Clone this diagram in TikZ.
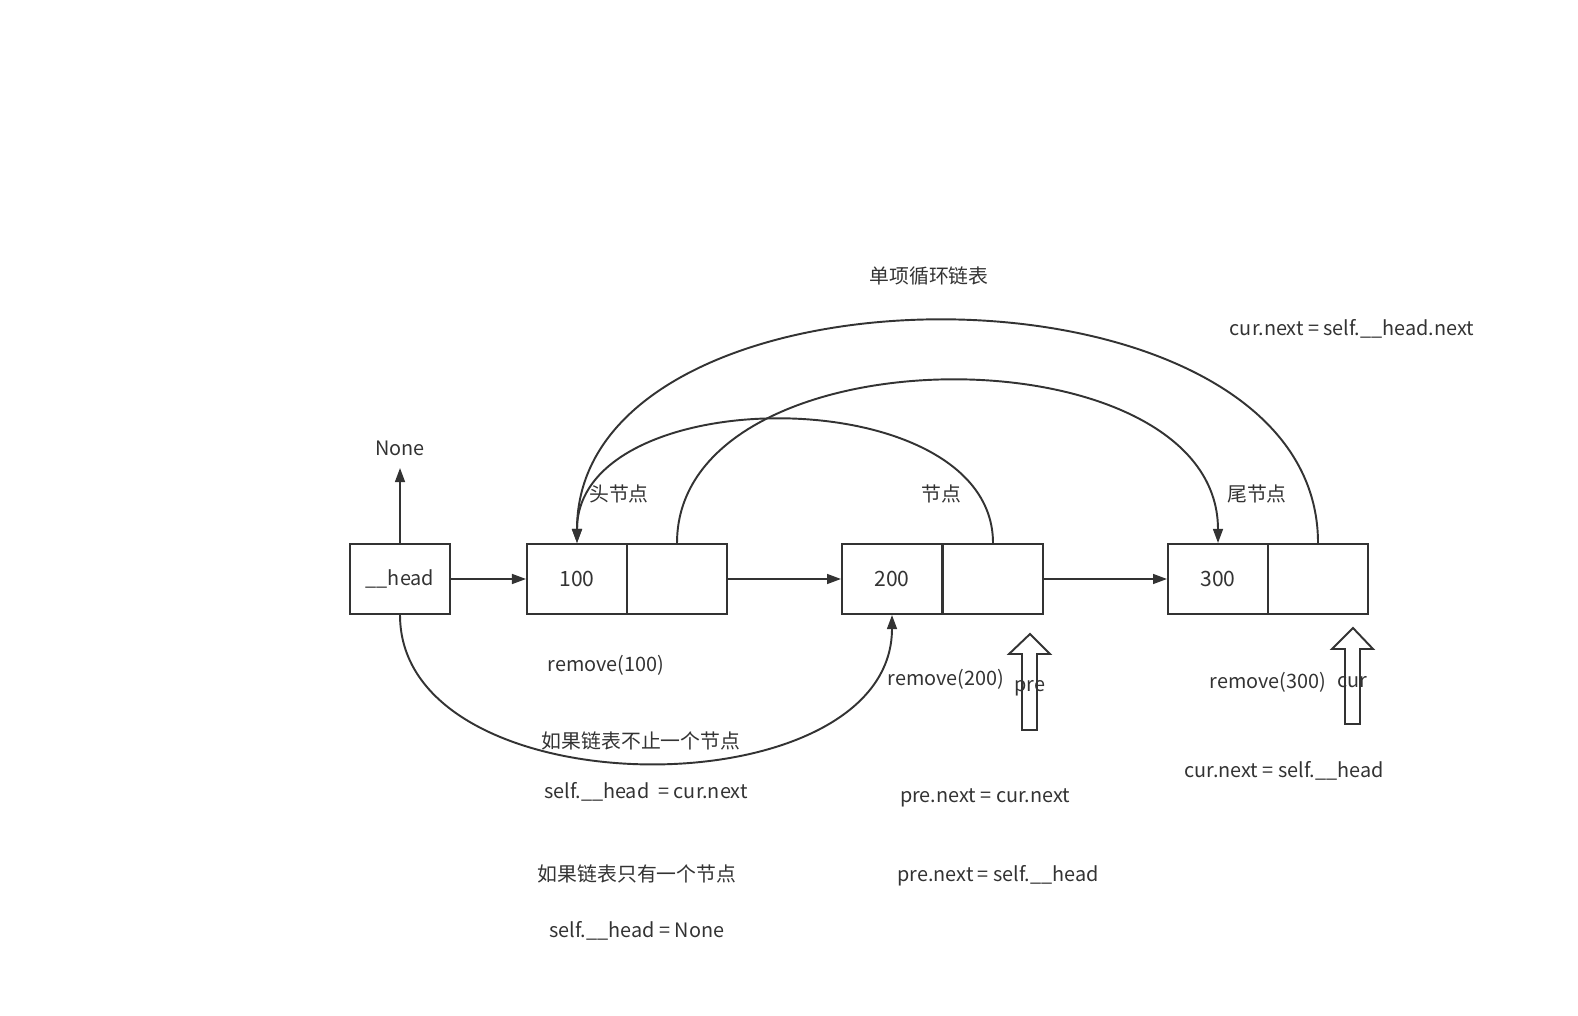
\documentclass[tikz,border=0pt]{standalone}
\usepackage{fontspec}
\setmainfont{Noto Sans CJK SC}
\usetikzlibrary{arrows.meta}
\definecolor{ink}{HTML}{333333}
\begin{document}
\begin{tikzpicture}[x=0.02cm,y=-0.02cm,
  font=\fontsize{11.3pt}{13pt}\selectfont,
  line width=1.1pt, draw=ink, text=ink,
  cell/.style={draw=ink, rectangle, minimum width=2cm, minimum height=1.4cm, inner sep=0pt, line width=1.1pt},
  lbl/.style={inner sep=0pt, text=ink},
  conn/.style={draw=ink, line width=1.1pt, -{Triangle[length=8pt,width=5.6pt]}},
  hollow/.style={draw=ink, line width=1.1pt, fill=white, line join=miter}]
\useasboundingbox (0,0) rectangle (1578,1016);
% boxes
\node[cell] (head) at (400,579) {\_\_head};
\node[cell] (v100) at (577,579) {\fontsize{12pt}{14pt}\selectfont 100};
\node[cell] (p100) at (677,579) {};
\node[cell] (v200) at (892,579) {\fontsize{12pt}{14pt}\selectfont 200};
\node[cell] (p200) at (993,579) {};
\node[cell] (v300) at (1218,579) {\fontsize{12pt}{14pt}\selectfont 300};
\node[cell] (p300) at (1318,579) {};
% labels
\node[lbl] (none) at (400,448) {None};
\node[lbl] (title) at (929,276) {单项循环链表};
\node[lbl] (t1) at (1352,329) {cur.next = self.\_\_head.next};
\node[lbl] (h1) at (619,494) {头节点};
\node[lbl] (h2) at (941,494) {节点};
\node[lbl] (h3) at (1257,494) {尾节点};
% hollow arrows
\coordinate (preTip) at (1030,634);
\coordinate (curTip) at (1353,628);
\draw[hollow] (preTip) -- (1050,654) -- (1037,654) -- (1037,730) -- (1022,730) -- (1022,654) -- (1009,654) -- cycle;
\draw[hollow] (curTip) -- (1373,649) -- (1360,649) -- (1360,724) -- (1345,724) -- (1345,649) -- (1332,649) -- cycle;
% connectors
\coordinate (noneEnd) at (400,468);
\draw[conn] (head.north) -- (noneEnd);
\draw[conn] (head.east) -- (v100.west);
\draw[conn] (p100.east) -- (v200.west);
\draw[conn] (p200.east) -- (v300.west);
\draw[conn] (p100.north) .. controls +(0,-216) and +(0,-216) .. (v300.north);
\draw[conn] (p200.north) .. controls +(0,-164) and +(0,-164) .. (v100.north);
\draw[conn] (p300.north) .. controls +(0,-296) and +(0,-296) .. (v100.north);
\draw[conn] (head.south) .. controls +(0,197) and +(0,197) .. (v200.south);
% lower labels
\node[lbl] (r1) at (606,665) {remove(100)};
\node[lbl] (r2) at (946,679) {remove(200)};
\node[lbl] (pre) at (1030,688) {pre};
\node[lbl] (r3) at (1268,682) {remove(300)};
\node[lbl] (cur) at (1352,682) {cur};
\node[lbl] (c1) at (641,741) {如果链表不止一个节点};
\node[lbl] (c2) at (646,792) {self.\_\_head\ \ = cur.next};
\node[lbl] (c3) at (985,798) {pre.next = cur.next};
\node[lbl] (c4) at (637,874) {如果链表只有一个节点};
\node[lbl] (c5) at (998,876) {pre.next = self.\_\_head};
\node[lbl] (c6) at (1284,771) {cur.next = self.\_\_head};
\node[lbl] (c7) at (637,931) {self.\_\_head = None};
\end{tikzpicture}
\end{document}
